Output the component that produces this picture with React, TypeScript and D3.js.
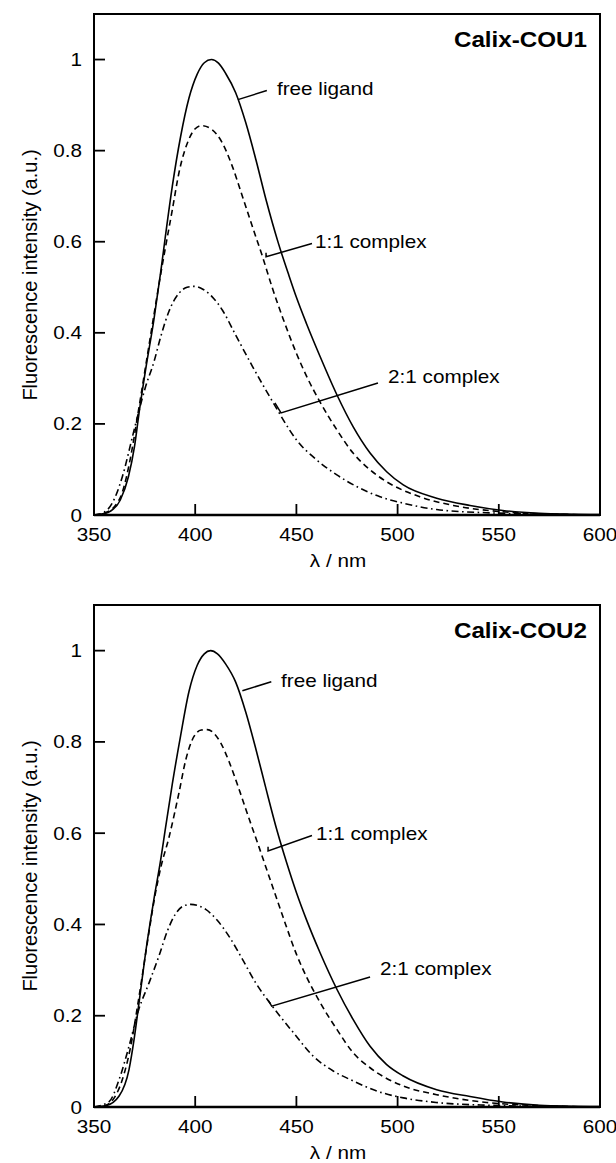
import React from 'react';
import * as d3 from 'd3';

type Pt = [number, number];

const wavelengthTicks = [350, 400, 450, 500, 550, 600];
const intensityTicks = [0, 0.2, 0.4, 0.6, 0.8, 1];

const cou1Free: Pt[] = [[350,0],[355,0.003],[358,0.008],[363,0.033],[367,0.084],[370,0.15],[372.2,0.222],[375.5,0.319],[379.6,0.429],[383,0.535],[385.1,0.606],[388.7,0.722],[392.8,0.831],[396.9,0.915],[401,0.968],[404.5,0.993],[408,1.0],[411.5,0.992],[415,0.97],[420,0.927],[425,0.861],[430,0.78],[435,0.692],[441,0.598],[446,0.53],[450,0.478],[455,0.42],[461.7,0.348],[470,0.264],[478,0.194],[486.4,0.136],[494.6,0.095],[502.8,0.066],[519.3,0.037],[535.8,0.021],[552,0.01],[570,0.004],[600,0.001]];
const cou1Complex11: Pt[] = [[350,0],[355,0.004],[360,0.018],[364,0.05],[368,0.125],[372,0.23],[376,0.34],[380,0.45],[383,0.53],[385.4,0.59],[388.7,0.67],[392,0.752],[396.9,0.825],[400,0.848],[403.2,0.855],[408.4,0.846],[413.4,0.817],[418.3,0.766],[423.3,0.7],[428.2,0.634],[433.2,0.568],[438,0.5],[443.5,0.43],[450,0.355],[455,0.305],[461.7,0.248],[470,0.187],[478,0.136],[486.4,0.099],[494.6,0.073],[511,0.04],[527.5,0.021],[552,0.007],[575,0.002],[600,0]];
const cou1Complex21: Pt[] = [[350,0],[355,0.006],[359,0.026],[364,0.084],[369,0.172],[372,0.225],[375.5,0.282],[379.6,0.336],[383,0.392],[387.1,0.448],[392,0.487],[396,0.5],[399.4,0.502],[404,0.495],[408.4,0.479],[413.4,0.45],[420,0.395],[428.2,0.327],[434.8,0.275],[440.6,0.231],[443.5,0.209],[450,0.165],[460,0.121],[470,0.088],[480,0.062],[491.3,0.04],[502.8,0.026],[519.3,0.012],[544,0.005],[600,0]];

const cou2Free: Pt[] = [[350,0],[356,0.003],[362.4,0.024],[367.3,0.082],[369.8,0.148],[372.2,0.227],[375.5,0.338],[379.6,0.455],[383,0.543],[385.1,0.605],[388.7,0.708],[392.8,0.814],[396.9,0.91],[401,0.968],[404.5,0.993],[407.6,1.0],[411,0.993],[415,0.971],[420,0.931],[425,0.865],[430,0.784],[435,0.697],[440.6,0.603],[445.2,0.535],[450,0.47],[455,0.41],[461.7,0.338],[470,0.258],[478,0.192],[486.4,0.133],[494.6,0.093],[502.8,0.068],[519.3,0.038],[535.8,0.023],[552,0.011],[570,0.004],[600,0.001]];
const cou2Complex11: Pt[] = [[350,0],[356,0.004],[360,0.02],[364,0.06],[368,0.13],[372,0.235],[376,0.35],[380,0.46],[383,0.525],[387,0.59],[392,0.689],[395.3,0.76],[399.4,0.812],[403,0.826],[406,0.827],[409,0.82],[412.6,0.798],[416.7,0.757],[421.6,0.697],[426.6,0.632],[431.5,0.57],[436.5,0.505],[440,0.46],[443.5,0.415],[450,0.335],[455,0.285],[461.7,0.229],[470,0.17],[478,0.119],[486.4,0.086],[502.8,0.046],[519.3,0.027],[544,0.01],[570,0.003],[600,0]];
const cou2Complex21: Pt[] = [[350,0],[357.5,0.012],[362.4,0.06],[367.3,0.133],[372,0.212],[377.2,0.272],[382.1,0.331],[386.2,0.385],[390.4,0.424],[394,0.44],[397.8,0.444],[401.5,0.441],[405.2,0.433],[410.9,0.409],[416.7,0.374],[423.3,0.324],[429.9,0.272],[438.1,0.221],[441.9,0.199],[448.5,0.163],[458.4,0.111],[468.2,0.079],[478.1,0.057],[489.7,0.035],[502.8,0.02],[519,0.01],[544,0.004],[600,0]];

const seriesLabels = ['free ligand', '1:1 complex', '2:1 complex'];
const panelTitles = ['Calix-COU1', 'Calix-COU2'];

// leader lines (data coordinates) and label anchors
const cou1Leaders: Pt[][] = [
  [[421.1, 0.912], [435.4, 0.932]],
  [[435.0, 0.576], [435.0, 0.567], [457.7, 0.596]],
  [[439.4, 0.246], [442.4, 0.224], [490.3, 0.29]],
];
const cou1LabelAt: Pt[] = [[440.4, 0.923], [459.2, 0.587], [495.3, 0.29]];
const cou2Leaders: Pt[][] = [
  [[423.3, 0.912], [437.6, 0.932]],
  [[436.0, 0.570], [436.0, 0.561], [457.7, 0.595]],
  [[436.0, 0.234], [437.8, 0.221], [486.4, 0.285]],
];
const cou2LabelAt: Pt[] = [[442.4, 0.921], [459.7, 0.585], [491.3, 0.289]];

const FONT = '"Liberation Sans", Arial, Helvetica, sans-serif';
const dashes = [null, '6,4', '7,3.5,1.6,3.5'];

const W = 616, H = 1163;
const LEFT = 94, RIGHT = 600;
const panelsLayout = [{ top: 14, bottom: 515 }, { top: 605, bottom: 1107 }];
const SX = 1.15;

function Panel({ idx, series, leaders, labelAt }: { idx: number; series: Pt[][]; leaders: Pt[][]; labelAt: Pt[] }) {
  const { top, bottom } = panelsLayout[idx];
  const x = d3.scaleLinear().domain([350, 600]).range([LEFT, RIGHT]);
  const y = d3.scaleLinear().domain([0, 1.1]).range([bottom, top]);
  const line = d3.line<Pt>().x(d => x(d[0])).y(d => y(d[1])).curve(d3.curveMonotoneX);
  const poly = d3.line<Pt>().x(d => x(d[0])).y(d => y(d[1]));
  const tickLen = 11;
  const textTr = (tx: number, ty: number, s = SX) => `translate(${tx},${ty}) scale(${s},1)`;
  return (
    <g>
      {series.map((s, i) => (
        <path key={i} d={line(s) || ''} fill="none" stroke="#000" strokeWidth={1.6}
          strokeDasharray={dashes[i] || undefined} />
      ))}
      <rect x={LEFT} y={top} width={RIGHT - LEFT} height={bottom - top} fill="none" stroke="#000" strokeWidth={2} />
      <line x1={LEFT} x2={RIGHT} y1={bottom} y2={bottom} stroke="#000" strokeWidth={2.6} />
      {wavelengthTicks.map(t => (
        <g key={t}>
          <line x1={x(t)} x2={x(t)} y1={bottom} y2={bottom - tickLen} stroke="#000" strokeWidth={1.8} />
          <text transform={textTr(x(t), bottom + 26)} textAnchor="middle" fontSize={18} fontFamily={FONT}>{t}</text>
        </g>
      ))}
      {intensityTicks.map(t => (
        <g key={t}>
          <line x1={LEFT} x2={LEFT + tickLen} y1={y(t)} y2={y(t)} stroke="#000" strokeWidth={1.8} />
          <text transform={textTr(82, y(t) + 6.5)} textAnchor="end" fontSize={18} fontFamily={FONT}>{t}</text>
        </g>
      ))}
      <text transform={`translate(37,${top + 261}) rotate(-90)`} textAnchor="middle" fontSize={20} fontFamily={FONT}>
        Fluorescence intensity (a.u.)
      </text>
      <text transform={textTr(338, bottom + 52)} textAnchor="middle" fontSize={18} fontFamily={FONT}>λ / nm</text>
      <text transform={textTr(587, top + 33, 1.1)} textAnchor="end" fontSize={22} fontWeight="bold" fontFamily={FONT}>
        {panelTitles[idx]}
      </text>
      {leaders.map((l, i) => (
        <path key={i} d={poly(l) || ''} fill="none" stroke="#000" strokeWidth={1.5} />
      ))}
      {labelAt.map((p, i) => (
        <text key={i} transform={textTr(x(p[0]), y(p[1]))} fontSize={18} fontFamily={FONT}>{seriesLabels[i]}</text>
      ))}
    </g>
  );
}

export default function App() {
  return (
    <svg width={W} height={H} style={{ position: 'absolute', left: 0, top: 0, background: '#fff' }}>
      <rect width={W} height={H} fill="#fff" />
      <Panel idx={0} series={[cou1Free, cou1Complex11, cou1Complex21]} leaders={cou1Leaders} labelAt={cou1LabelAt} />
      <Panel idx={1} series={[cou2Free, cou2Complex11, cou2Complex21]} leaders={cou2Leaders} labelAt={cou2LabelAt} />
    </svg>
  );
}
